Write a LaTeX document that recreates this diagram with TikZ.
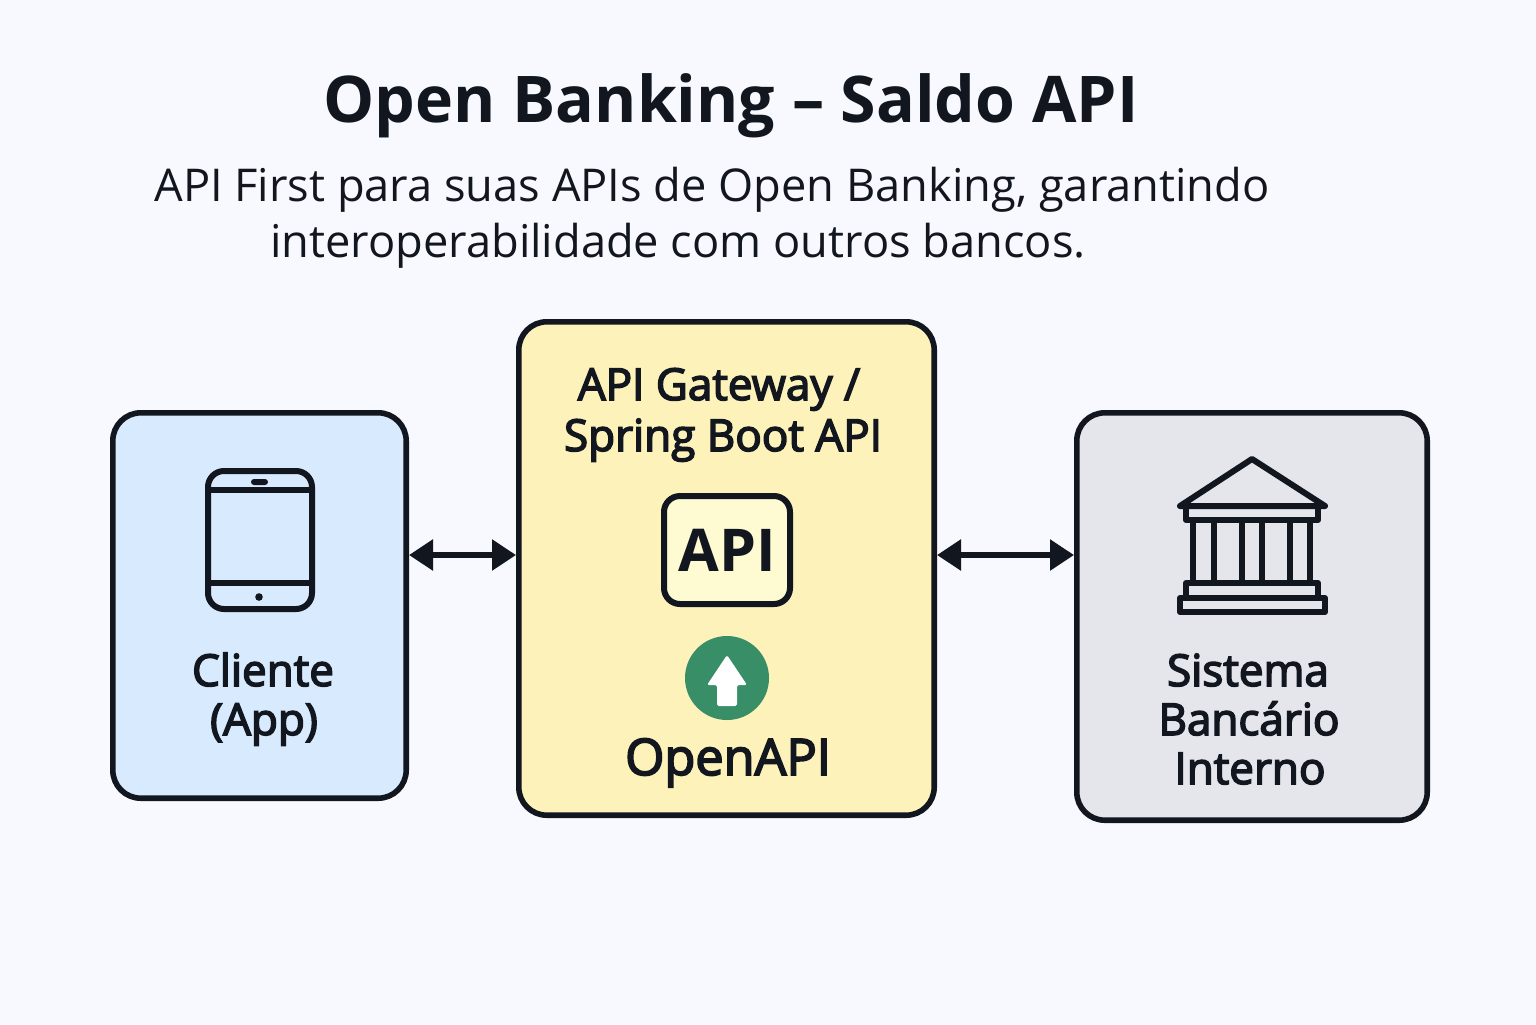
\documentclass[tikz,border=0pt]{standalone}
\usepackage{fontspec}
\setmainfont{Open Sans}
\newfontfamily\labelfont[FakeBold=3.5]{Open Sans}
\usetikzlibrary{arrows.meta}

\definecolor{pageBg}{HTML}{F8F9FE}
\definecolor{inkDark}{HTML}{11161F}
\definecolor{clientBlue}{HTML}{D8EAFD}
\definecolor{gatewayYellow}{HTML}{FDF2B9}
\definecolor{badgeYellow}{HTML}{FEFAD2}
\definecolor{systemGray}{HTML}{E4E6EC}
\definecolor{openapiGreen}{HTML}{388E66}

\begin{document}
\begin{tikzpicture}[
  x=0.5pt,y=-0.5pt,
  box/.style={draw=inkDark,line width=2.8pt,rounded corners=14pt,inner sep=0pt},
  icon/.style={draw=inkDark,line width=3pt,line join=round},
  link/.style={{Triangle[length=12pt,width=15pt]}-{Triangle[length=12pt,width=15pt]},draw=inkDark,line width=2.8pt},
  boxlabel/.style={anchor=base,text=inkDark,font=\labelfont\fontsize{22}{26}\selectfont},
  subtitle/.style={anchor=base,text=inkDark,font=\fontsize{22.6}{28}\selectfont}]

\fill[pageBg] (0,0) rectangle (1536,1024);
\useasboundingbox (0,0) rectangle (1536,1024);

% Title and subtitle
\node[anchor=base,text=inkDark,font=\bfseries\fontsize{32.2}{40}\selectfont] (titleText) at (731,122) {Open Banking – Saldo API};
\node[subtitle] (subtitleOne) at (712,201) {API First para suas APIs de Open Banking, garantindo};
\node[subtitle] (subtitleTwo) at (678,257) {interoperabilidade com outros bancos.};

% Position the three boxes
\node[box,fill=clientBlue,minimum width=146.7pt,minimum height=192.7pt] (client) at (259.5,605.5) {};
\node[box,fill=gatewayYellow,minimum width=207.7pt,minimum height=246.7pt] (gateway) at (726.5,568.5) {};
\node[box,fill=systemGray,minimum width=175.2pt,minimum height=203.7pt] (system) at (1252,616.5) {};

% Tablet icon
\draw[icon,rounded corners=8pt] (208,471) rectangle (312,609);
\draw[icon] (208,490) -- (312,490);
\draw[icon] (208,583) -- (312,583);
\fill[inkDark,rounded corners=1.5pt] (251,479) rectangle (268,485);
\fill[inkDark] (259,597) circle (3.8);

% Labels of the client box
\node[boxlabel] (clientOne) at (263,686) {Cliente};
\node[boxlabel] (clientTwo) at (264,735) {(App)};

% Labels and icons of the gateway box
\node[boxlabel] (gatewayOne) at (719,400) {API Gateway /};
\node[boxlabel] (gatewayTwo) at (723,451) {Spring Boot API};
\node[draw=inkDark,fill=badgeYellow,line width=3pt,rounded corners=8pt,minimum width=63pt,minimum height=54pt,inner sep=0pt,text=inkDark,font=\bfseries\fontsize{29.5}{36}\selectfont] (apiBadge) at (727,550) {API};
\node[circle,fill=openapiGreen,minimum size=42pt,inner sep=0pt] (openapiLogo) at (727,678) {};
\fill[white,rounded corners=0.8pt] (727,655) -- (747,685) -- (737,685) -- (737,706) -- (717,706) -- (717,685) -- (707,685) -- cycle;
\node[boxlabel,font=\labelfont\fontsize{25.2}{30}\selectfont] (openapiText) at (728,775) {OpenAPI};

% Bank icon
\draw[icon] (1180,506) -- (1252,459) -- (1325,506) -- cycle;
\draw[icon] (1186,506) rectangle (1318,520);
\foreach \colX in {1193,1214,1242,1262,1290,1310}
  \draw[icon] (\colX,520) -- (\colX,583);
\draw[icon] (1186,583) rectangle (1318,598);
\draw[icon] (1180,598) rectangle (1325,612);

% Labels of the system box
\node[boxlabel] (systemOne) at (1248,686) {Sistema};
\node[boxlabel] (systemTwo) at (1249,735) {Bancário};
\node[boxlabel] (systemThree) at (1250,784) {Interno};

% Draw the arrows between the boxes
\coordinate (linkLevel) at (0,555);
\draw[link] (client.east |- linkLevel) -- (gateway.west |- linkLevel);
\draw[link] (gateway.east |- linkLevel) -- (system.west |- linkLevel);

\end{tikzpicture}
\end{document}
